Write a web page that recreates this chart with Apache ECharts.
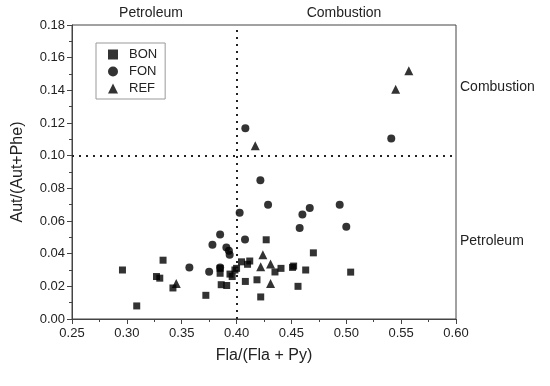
<!DOCTYPE html>
<html><head><meta charset="utf-8">
<script src="https://cdn.jsdelivr.net/npm/echarts@6/dist/echarts.min.js"></script>
<style>html,body{margin:0;padding:0;background:#fff}#c{width:550px;height:386px}</style>
</head><body><div id="c"></div>
<script>
var bonX = [0.296,0.309,0.327,0.330,0.333,0.342,0.372,0.385,0.385,0.386,0.391,0.394,0.396,0.3985,0.400,0.4045,0.408,0.410,0.412,0.4186,0.422,0.427,0.435,0.4405,0.451,0.452,0.456,0.463,0.470,0.504];
var bonY = [0.030,0.008,0.026,0.025,0.036,0.019,0.0145,0.031,0.028,0.021,0.0205,0.0275,0.026,0.030,0.031,0.035,0.023,0.0335,0.0355,0.024,0.0135,0.0485,0.0288,0.031,0.0316,0.0324,0.020,0.030,0.0405,0.0287];
var fonX = [0.357,0.375,0.378,0.385,0.385,0.3907,0.393,0.3937,0.4028,0.4077,0.408,0.4217,0.4287,0.4575,0.460,0.4667,0.494,0.500,0.541];
var fonY = [0.0316,0.029,0.0455,0.0518,0.0315,0.0438,0.0418,0.0393,0.065,0.0487,0.1168,0.085,0.070,0.0557,0.064,0.068,0.070,0.0565,0.1105];
var refX = [0.345,0.417,0.422,0.424,0.431,0.431,0.545,0.557];
var refY = [0.0218,0.106,0.032,0.0393,0.0336,0.0218,0.1407,0.152];
var thresholdX = 0.40;
var thresholdY = 0.10;
var seriesNames = ['BON','FON','REF'];
var xTitle = 'Fla/(Fla + Py)';
var yTitle = 'Aut/(Aut+Phe)';
var topLabels = ['Petroleum','Combustion'];
var rightLabels = ['Combustion','Petroleum'];

function zip(a,b){return a.map(function(v,i){return [v,b[i]];});}
var font = 'Liberation Sans, Arial, sans-serif';
var chart = echarts.init(document.getElementById('c'));
var mk = {
  silent:true, symbol:'none', label:{show:false},
  lineStyle:{type:[2,5],color:'#222',width:2},
  data:[{xAxis:thresholdX},{yAxis:thresholdY}]
};
function txt(s,x,y,align){
  return {type:'text',x:x,y:y,style:{text:s,fill:'#222',font:'14px '+font,textAlign:align}};
}
chart.setOption({
  animation:false,
  backgroundColor:'#fff',
  textStyle:{fontFamily:font},
  grid:{left:72,right:94,top:25,bottom:67,show:true,borderColor:'#444',borderWidth:1,backgroundColor:'transparent'},
  legend:{
    orient:'vertical',left:96,top:43,
    data:seriesNames,
    borderColor:'#999',borderWidth:1,
    padding:[5,8,4,12],itemGap:4,itemWidth:10,itemHeight:10,
    textStyle:{fontSize:13,color:'#222',fontFamily:font,padding:[0,0,0,6]}
  },
  xAxis:{
    type:'value',min:0.25,max:0.60,interval:0.05,
    name:xTitle,nameLocation:'middle',nameGap:29,
    nameTextStyle:{fontSize:16,color:'#222',fontFamily:font},
    axisLine:{show:true,onZero:false,lineStyle:{color:'#444'}},
    axisTick:{show:true,inside:false,length:5,lineStyle:{color:'#444'}},
    minorTick:{show:true,splitNumber:2,length:3,lineStyle:{color:'#444'}},
    axisLabel:{fontSize:13,color:'#222',fontFamily:font,margin:8,formatter:function(v){return v.toFixed(2);}},
    splitLine:{show:false}
  },
  yAxis:{
    type:'value',min:0,max:0.18,interval:0.02,
    name:yTitle,nameLocation:'middle',nameGap:46,
    nameTextStyle:{fontSize:16,color:'#222',fontFamily:font},
    axisLine:{show:true,onZero:false,lineStyle:{color:'#444'}},
    axisTick:{show:true,inside:false,length:5,lineStyle:{color:'#444'}},
    minorTick:{show:true,splitNumber:2,length:3,lineStyle:{color:'#444'}},
    axisLabel:{fontSize:13,color:'#222',fontFamily:font,margin:7,formatter:function(v){return v.toFixed(2);}},
    splitLine:{show:false}
  },
  graphic:[
    txt(topLabels[0],151,6,'center'),
    txt(topLabels[1],344,6,'center'),
    txt(rightLabels[0],460,80,'left'),
    txt(rightLabels[1],460,234,'left')
  ],
  series:[
    {name:seriesNames[0],type:'scatter',symbol:'rect',symbolSize:7,itemStyle:{color:'#000'},data:zip(bonX,bonY),markLine:mk},
    {name:seriesNames[1],type:'scatter',symbol:'circle',symbolSize:8,itemStyle:{color:'#000'},data:zip(fonX,fonY)},
    {name:seriesNames[2],type:'scatter',symbol:'triangle',symbolSize:9,itemStyle:{color:'#000'},data:zip(refX,refY)}
  ]
});
</script></body></html>
